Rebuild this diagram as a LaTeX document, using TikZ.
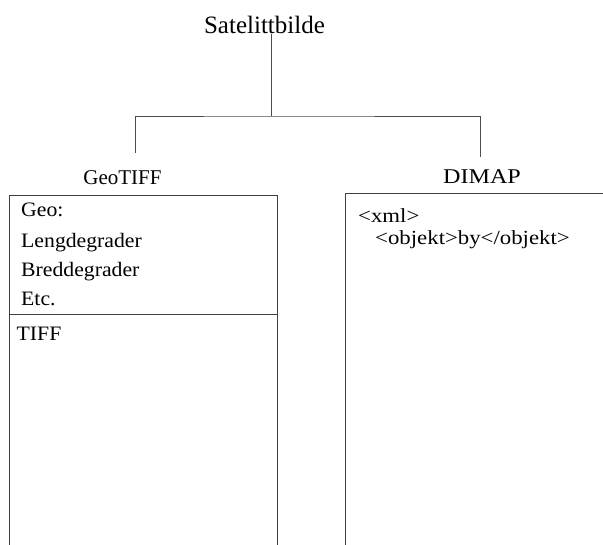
\documentclass[tikz,border=0pt]{standalone}
\usepackage{fontspec}
\setmainfont{Liberation Serif}
\begin{document}
\begin{tikzpicture}[x=1pt,y=-1pt,
  txt/.style={inner sep=0pt,anchor=base west,xscale=1.06,font=\fontsize{20.5}{24}\selectfont},
  code/.style={inner sep=0pt,anchor=base west,xscale=1.14,font=\fontsize{20}{24}\selectfont},
  head/.style={inner sep=0pt,anchor=base,font=\fontsize{21}{25}\selectfont},
  frame/.style={draw=black!75,line width=0.9pt},
  link/.style={draw=black!70,line width=0.9pt}]
\useasboundingbox (0,0) rectangle (603,545);
\clip (0,0) rectangle (603,545);

% root and the two branches
\node[inner sep=0pt,anchor=base,font=\fontsize{25}{30}\selectfont] (root) at (264.5,33.3) {Satelittbilde};
\node[head] (geotiff) at (122.5,185) {GeoTIFF};
\node[head,xscale=1.15] (dimap) at (482,184) {DIMAP};

\coordinate (fork) at (271,116);
\coordinate (lefttip) at (135,153);
\coordinate (righttip) at (480,157);
\draw[link] (root.south -| fork) -- (fork);
\draw[link] (lefttip) |- (fork) -| (righttip);

% GeoTIFF file: header block over the image data
\draw[frame] (9,600) -- (9,195) -- (277,195) -- (277,600);
\draw[frame] (9,314) -- (277,314);
\node[txt] (geo) at (21,216.7) {Geo:};
\node[txt] (lon) at (21,247.7) {Lengdegrader};
\node[txt] (lat) at (21,277) {Breddegrader};
\node[txt] (etc) at (21,306) {Etc.};
\node[txt] (tiff) at (16.5,341) {TIFF};

% DIMAP file: XML metadata
\draw[frame] (345,600) -- (345,193) -- (620,193);
\node[code] (xml) at (358,223) {<xml>};
\node[code] (obj) at (375,245) {<objekt>by</objekt>};
\end{tikzpicture}
\end{document}
